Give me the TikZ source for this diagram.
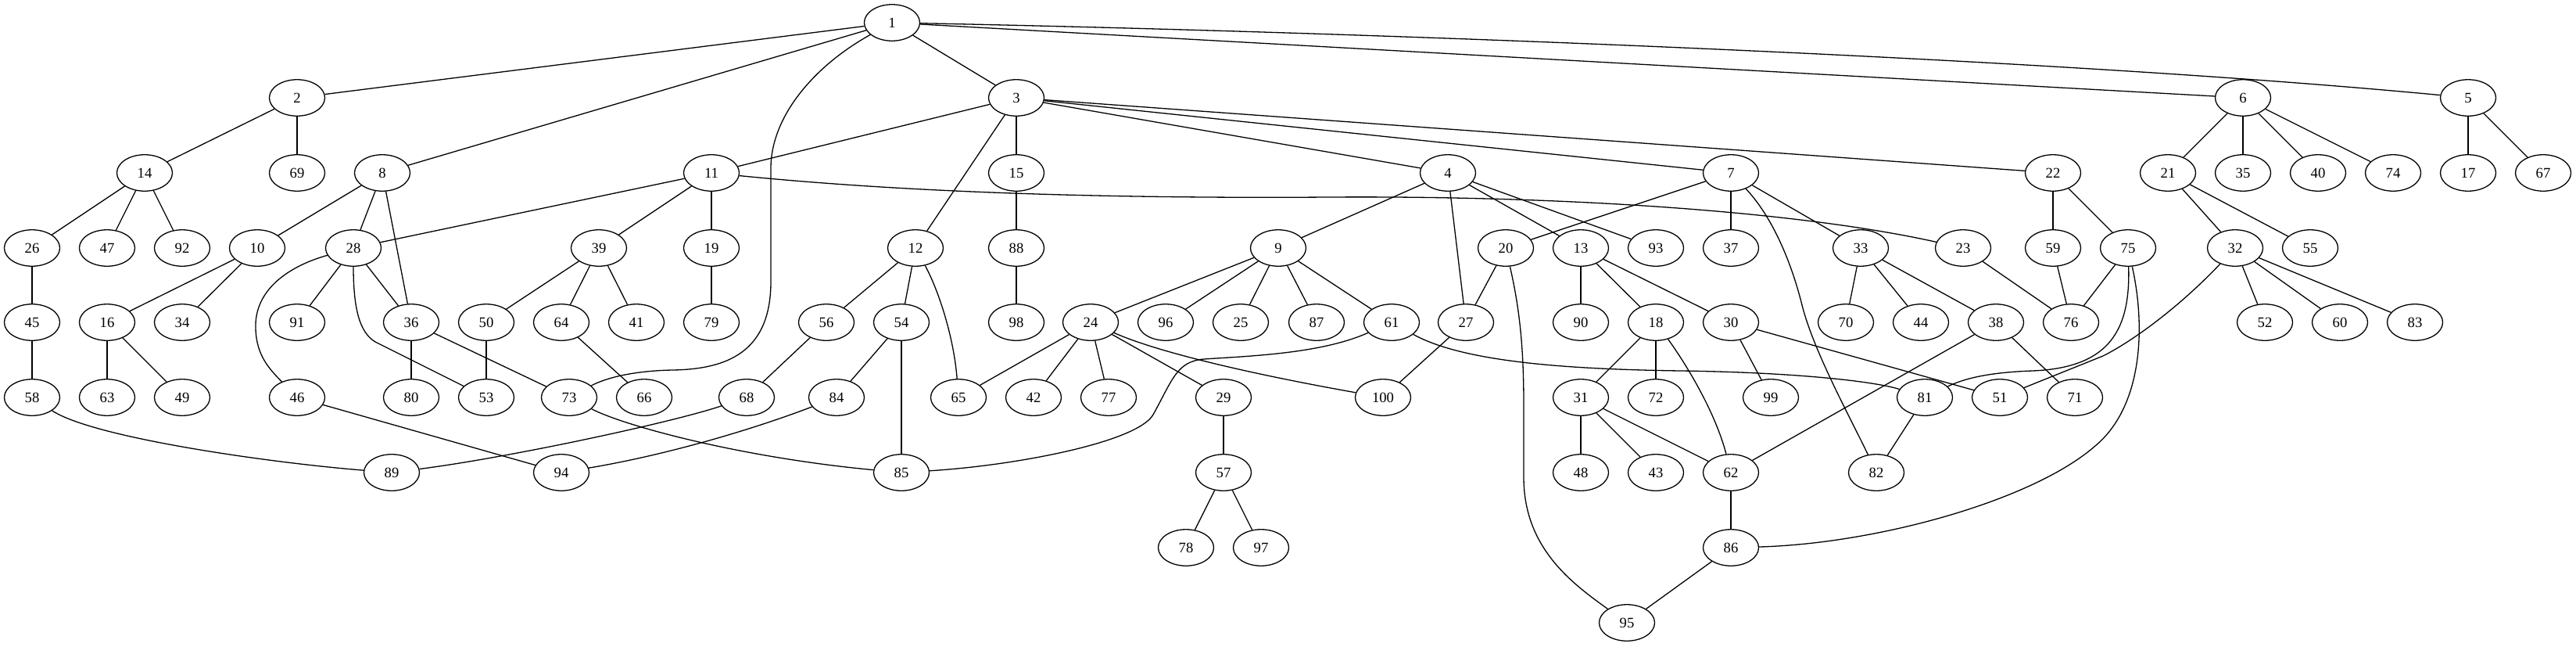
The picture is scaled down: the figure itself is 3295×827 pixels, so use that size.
\documentclass[tikz,border=0pt]{standalone}
\usepackage{fontspec}
\setmainfont{Liberation Serif}
\usetikzlibrary{shapes.geometric}
\begin{document}
\begin{tikzpicture}[x=1pt,y=-1pt,
  v/.style={ellipse,draw,line width=1.3pt,minimum width=71pt,minimum height=46.5pt,inner sep=0pt,font=\fontsize{18.67}{20}\selectfont},
  e/.style={line width=1.3pt}]
\useasboundingbox (0,0) rectangle (3295,827);
\foreach \n/\x/\y in {
 1/1141/29,
 2/380/125, 3/1300/125, 6/2869/125, 5/3157/125,
 14/185/221, 69/380/221, 8/489/221, 11/910/221, 15/1300/221, 4/1852/221, 7/2214/221, 22/2626/221, 21/2773/221, 35/2869/221, 40/2965/221, 74/3061/221, 17/3157/221, 67/3253/221,
 26/41/317, 47/137/317, 92/233/317, 10/329/317, 28/452/317, 39/766/317, 19/910/317, 12/1171/317, 88/1300/317, 9/1635/317, 20/1926/317, 13/2022/317, 93/2118/317, 37/2214/317, 33/2380/317, 23/2511/317, 59/2626/317, 75/2722/317, 32/2859/317, 55/2955/317,
 45/41/412, 16/137/412, 34/233/412, 91/380/412, 36/526/412, 50/622/412, 64/718/412, 41/814/412, 79/910/412, 56/1057/412, 54/1153/412, 98/1300/412, 24/1395/412, 96/1491/412, 25/1587/412, 87/1684/412, 61/1780/412, 27/1875/412, 90/2022/412, 18/2118/412, 30/2214/412, 70/2361/412, 44/2457/412, 38/2553/412, 76/2649/412, 52/2897/412, 60/2993/412, 83/3089/412,
 58/41/508, 63/137/508, 49/233/508, 46/380/508, 80/526/508, 53/622/508, 73/728/508, 66/824/508, 68/955/508, 84/1070/508, 65/1226/508, 42/1322/508, 77/1418/508, 29/1565/508, 100/1769/508, 31/2022/508, 72/2118/508, 99/2265/508, 81/2462/508, 51/2558/508, 71/2654/508,
 89/501/604, 94/718/604, 85/1153/604, 57/1565/604, 48/2022/604, 43/2118/604, 62/2214/604, 82/2400/604,
 78/1517/700, 97/1613/700, 86/2214/700,
 95/2081/796}
  \node[v] (n\n) at (\x,\y) {\n};
\foreach \a/\b in {
 1/2, 1/8, 1/3, 1/6,
 2/14, 2/69,
 14/26, 14/47, 14/92,
 26/45, 45/58,
 8/10, 8/28, 8/36,
 10/16, 10/34,
 16/63, 16/49,
 28/91, 28/36, 11/28,
 36/80, 36/73,
 46/94,
 3/11, 3/12, 3/15, 3/4, 3/7, 3/22,
 11/39, 11/19,
 39/50, 39/64, 39/41,
 19/79, 50/53, 64/66, 56/68,
 12/56, 12/54,
 54/84, 54/85,
 15/88, 88/98,
 4/9, 4/27, 4/13, 4/93,
 9/24, 9/96, 9/25, 9/87, 9/61,
 24/65, 24/42, 24/77, 24/29,
 29/57, 57/78, 57/97,
 7/20, 20/27, 27/100,
 13/90, 13/18, 13/30,
 18/31, 18/72,
 31/48, 31/43, 31/62,
 7/37, 7/33,
 33/70, 33/44, 33/38,
 38/62, 38/71,
 30/99, 30/51,
 81/82, 62/86, 86/95,
 22/59, 22/75,
 59/76, 23/76, 75/76,
 6/21, 6/35, 6/40, 6/74,
 21/32, 21/55,
 32/52, 32/60, 32/83,
 5/17, 5/67}
  \draw[e] (n\a) -- (n\b);
\draw[e] (n1) .. controls (1700,40) and (2600,72) .. (n5);
\draw[e] (n1) .. controls (1040,85) and (986,150) .. (986,215) -- (986,360) .. controls (986,450) and (930,472) .. (860,473) .. controls (810,474) and (775,483) .. (n73);
\draw[e] (n28) .. controls (370,340) and (325,370) .. (327,420) .. controls (328,455) and (345,472) .. (n46);
\draw[e] (n28) .. controls (452,395) and (460,425) .. (480,437) -- (n53);
\draw[e] (n12) .. controls (1200,370) and (1220,430) .. (n65);
\draw[e] (n61) .. controls (1690,452) and (1600,455) .. (1540,459) .. controls (1505,462) and (1500,485) .. (1475,530) .. controls (1455,565) and (1300,595) .. (n85);
\draw[e] (n61) .. controls (1870,462) and (2000,472) .. (2150,474) .. controls (2300,476) and (2400,488) .. (n81);
\draw[e] (n24) .. controls (1480,450) and (1600,478) .. (n100);
\draw[e] (n20) .. controls (1945,400) and (1949,450) .. (1949,520) -- (1949,610) .. controls (1949,700) and (2010,745) .. (n95);
\draw[e] (n18) .. controls (2160,470) and (2195,530) .. (n62);
\draw[e] (n7) .. controls (2265,275) and (2290,330) .. (2305,390) .. controls (2320,450) and (2370,540) .. (n82);
\draw[e] (n11) .. controls (1150,245) and (1400,254) .. (1700,252) .. controls (2000,250) and (2300,270) .. (n23);
\draw[e] (n75) .. controls (2725,420) and (2700,470) .. (2600,474) .. controls (2540,476) and (2510,485) .. (n81);
\draw[e] (n75) .. controls (2745,420) and (2740,520) .. (2680,570) .. controls (2600,640) and (2400,695) .. (n86);
\draw[e] (n32) .. controls (2790,390) and (2730,435) .. (2690,455) -- (n51);
\draw[e] (n58) .. controls (120,560) and (350,592) .. (n89);
\draw[e] (n68) .. controls (860,540) and (650,585) .. (n89);
\draw[e] (n73) .. controls (800,545) and (950,585) .. (n85);
\draw[e] (n84) .. controls (960,550) and (850,582) .. (n94);
\end{tikzpicture}
\end{document}
